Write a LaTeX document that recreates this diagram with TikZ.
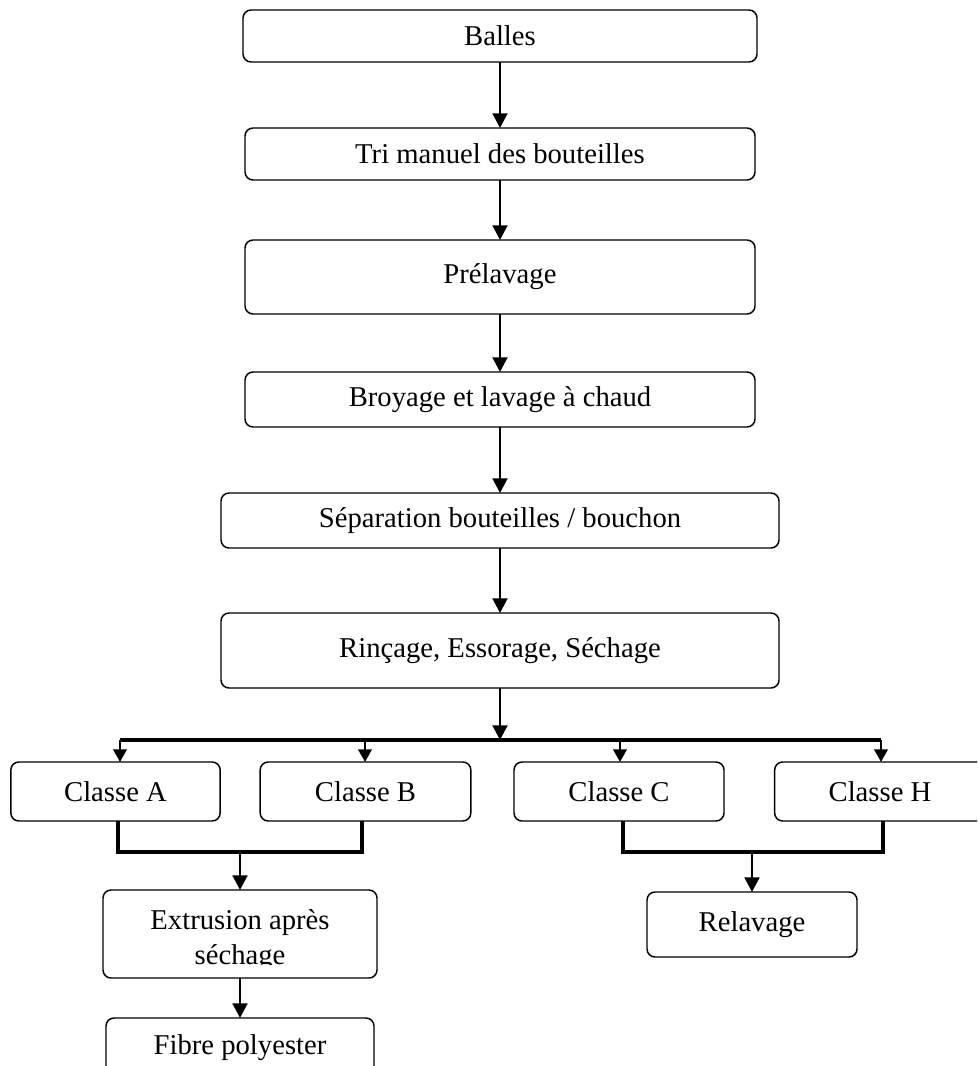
\documentclass[tikz,border=0pt]{standalone}
\usepackage{fontspec}
\setmainfont{Liberation Serif}
\usetikzlibrary{arrows.meta}
\tikzset{
  txt/.style={font=\fontsize{21.5}{26}\selectfont},
  boxst/.style={draw, line width=1.1pt, rounded corners=6pt, inner sep=0pt, outer sep=0pt, align=center, txt},
  conn/.style={line width=2.2pt, -{Triangle[length=11pt,width=11pt]}},
  connsm/.style={line width=2.2pt, -{Triangle[length=9.5pt,width=10pt]}},
  plain/.style={line width=2.6pt, line join=miter},
}
\begin{document}
\begin{tikzpicture}[x=0.75pt,y=-0.75pt]
\fill[white] (0,0) rectangle (977,1066);
\clip (0,0) rectangle (977,1066);
% main chain
\node[boxst, minimum width=385.5pt, minimum height=39pt] (balles) at (500,36) {Balles};
\node[boxst, minimum width=382.5pt, minimum height=39pt] (tri) at (500,154) {Tri manuel des bouteilles};
\node[boxst, minimum width=382.5pt, minimum height=55.5pt] (prel) at (500,277) {Prélavage};
\node[boxst, minimum width=382.5pt, minimum height=41.25pt] (broy) at (500,399.5) {Broyage et lavage à chaud};
\node[boxst, minimum width=418.5pt, minimum height=41.25pt] (sep) at (500,520.5) {Séparation bouteilles / bouchon};
\node[boxst, minimum width=418.5pt, minimum height=56.25pt] (rin) at (500,650.5) {Rinçage, Essorage, Séchage};
% classes
\node[boxst, minimum width=157pt, minimum height=44.25pt] (cA) at (115.5,791.5) {Classe A};
\node[boxst, minimum width=158pt, minimum height=44.25pt] (cB) at (365.5,791.5) {Classe B};
\node[boxst, minimum width=157.5pt, minimum height=44.25pt] (cC) at (619,791.5) {Classe C};
\node[boxst, minimum width=158pt, minimum height=44.25pt] (cH) at (880,791.5) {Classe H};
% lower boxes
\node[boxst, minimum width=205.5pt, minimum height=66pt] (ext) at (240,934) {};
\begin{scope}
\clip (103,890) rectangle (377,964);
\node[txt, align=center] (exttxt) at (240,940) {Extrusion après\\séchage};
\end{scope}
\node[boxst, minimum width=157.5pt, minimum height=48.75pt] (rel) at (752,924.5) {Relavage};
\node[boxst, minimum width=201pt, minimum height=45pt] (fib) at (240,1048) {Fibre polyester};
% main arrows
\draw[conn] (balles.south) -- (tri.north);
\draw[conn] (tri.south) -- (prel.north);
\draw[conn] (prel.south) -- (broy.north);
\draw[conn] (broy.south) -- (sep.north);
\draw[conn] (sep.south) -- (rin.north);
% distribution bar
\coordinate (barL) at (120,740);
\coordinate (barR) at (881,740);
\coordinate (jB) at (365,740);
\coordinate (jC) at (620,740);
\draw[conn] (rin.south) -- (rin.south |- barL);
\draw[plain] (barL) -- (barR);
\draw[connsm] (barL) -- (barL |- cA.north);
\draw[connsm] (jB) -- (jB |- cB.north);
\draw[connsm] (jC) -- (jC |- cC.north);
\draw[connsm] (barR) -- (barR |- cH.north);
% merging A,B
\coordinate (lA) at (118,852);
\coordinate (lB) at (362,852);
\draw[plain] (lA |- cA.south) -- (lA) -- (lB) -- (lB |- cB.south);
\draw[conn] (ext.north |- lA) -- (ext.north);
% merging C,H
\coordinate (lC) at (623,852);
\coordinate (lH) at (883,852);
\draw[plain] (lC |- cC.south) -- (lC) -- (lH) -- (lH |- cH.south);
\draw[conn] (rel.north |- lC) -- (rel.north);
% extrusion to fibre
\draw[conn] (ext.south) -- (fib.north);
\end{tikzpicture}
\end{document}
